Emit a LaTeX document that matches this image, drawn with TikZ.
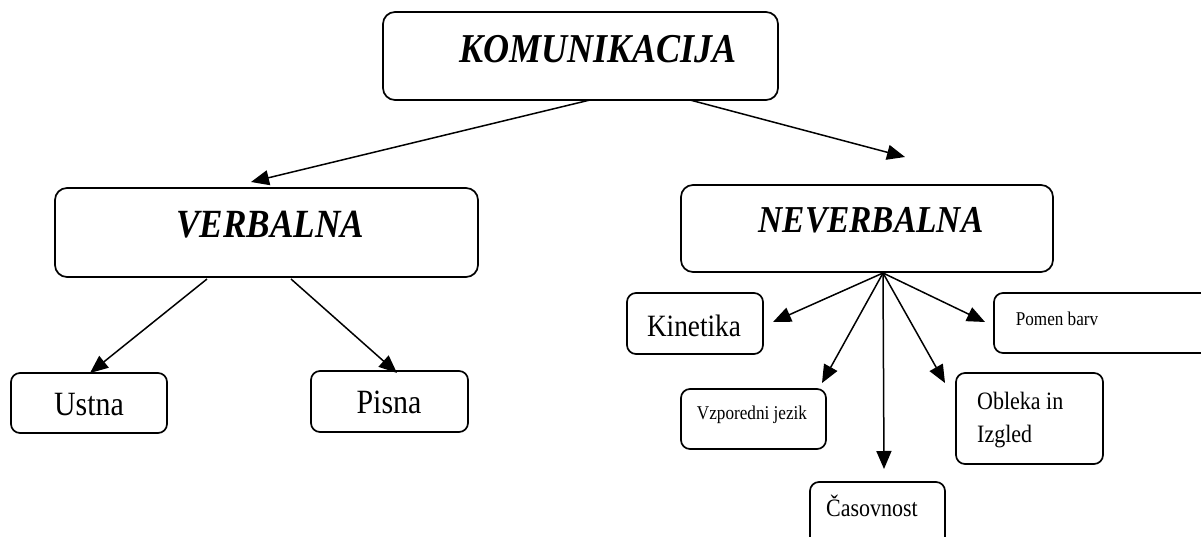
\documentclass[tikz,border=0pt]{standalone}
\usepackage{fontspec}
\setmainfont{Liberation Serif}[FakeStretch=0.88]
\usetikzlibrary{arrows.meta}
\begin{document}
\begin{tikzpicture}[x=1pt,y=-1pt,
  box/.style={draw,line width=1.7pt,rounded corners=12pt,inner sep=0pt},
  sbox/.style={draw,line width=1.7pt,rounded corners=9pt,inner sep=0pt},
  lbl/.style={inner sep=0pt,anchor=base},
  arr/.style={line width=1.5pt,-{Triangle[length=18pt,width=15pt]}}]
\useasboundingbox (0,0) rectangle (1201,537);

% boxes
\node[box,minimum width=395pt,minimum height=88pt] (kom) at (580.5,56) {};
\node[box,minimum width=423pt,minimum height=89pt] (verb) at (266.5,232.5) {};
\node[box,minimum width=372pt,minimum height=87pt] (nev) at (867,228.5) {};
\node[sbox,minimum width=156pt,minimum height=60pt] (ustna) at (89,403) {};
\node[sbox,minimum width=157pt,minimum height=61pt] (pisna) at (389.5,401.5) {};
\node[sbox,minimum width=136pt,minimum height=61pt] (kin) at (695,323.5) {};
\node[sbox,minimum width=145pt,minimum height=60pt] (vzp) at (753.5,419) {};
\node[sbox,minimum width=135pt,minimum height=80pt] (cas) at (877.5,522) {};
\node[sbox,minimum width=147pt,minimum height=91pt] (obl) at (1029.5,418.5) {};
\node[sbox,minimum width=220pt,minimum height=60pt] (pom) at (1104,323) {};

% labels
\node[lbl,font=\fontsize{41}{41}\selectfont\bfseries\itshape] (komT) at (598,63) {KOMUNIKACIJA};
\node[lbl,font=\fontsize{40}{40}\selectfont\bfseries\itshape] (verbT) at (270,237) {VERBALNA};
\node[lbl,font=\fontsize{38}{38}\selectfont\bfseries\itshape] (nevT) at (871,233) {NEVERBALNA};
\node[lbl,font=\fontsize{34}{34}\selectfont] (ustnaT) at (89,415) {Ustna};
\node[lbl,font=\fontsize{34}{34}\selectfont] (pisnaT) at (389,413) {Pisna};
\node[lbl,font=\fontsize{31}{31}\selectfont] (kinT) at (694,336) {Kinetika};
\node[lbl,font=\fontsize{19.5}{19.5}\selectfont] (vzpT) at (752,419) {Vzporedni jezik};
\node[lbl,font=\fontsize{25}{25}\selectfont] (casT) at (872,516) {Časovnost};
\node[lbl,anchor=base west,font=\fontsize{25}{25}\selectfont] (oblT1) at (977,409) {Obleka in};
\node[lbl,anchor=base west,font=\fontsize{25}{25}\selectfont] (oblT2) at (977,442) {Izgled};
\node[lbl,font=\fontsize{19.5}{19.5}\selectfont] (pomT) at (1057,325) {Pomen barv};

% connector ends
\coordinate (komL) at (590,100);
\coordinate (komR) at (690,100);
\coordinate (verbTip) at (251,182);
\coordinate (nevTip) at (905,157);
\coordinate (verbL) at (207,279);
\coordinate (verbR) at (291,279);
\coordinate (ustTip) at (90,373);
\coordinate (pisTip) at (397,373);
\coordinate (fan) at (883,273);
\coordinate (kinTip) at (773,322);
\coordinate (vzpTip) at (822,383);
\coordinate (casTip) at (884,469);
\coordinate (oblTip) at (945,383);
\coordinate (pomTip) at (985,322);

% connectors
\draw[arr] (komL) -- (verbTip);
\draw[arr] (komR) -- (nevTip);
\draw[arr] (verbL) -- (ustTip);
\draw[arr] (verbR) -- (pisTip);
\draw[arr] (fan) -- (kinTip);
\draw[arr] (fan) -- (vzpTip);
\draw[arr] (fan) -- (casTip);
\draw[arr] (fan) -- (oblTip);
\draw[arr] (fan) -- (pomTip);
\end{tikzpicture}
\end{document}
